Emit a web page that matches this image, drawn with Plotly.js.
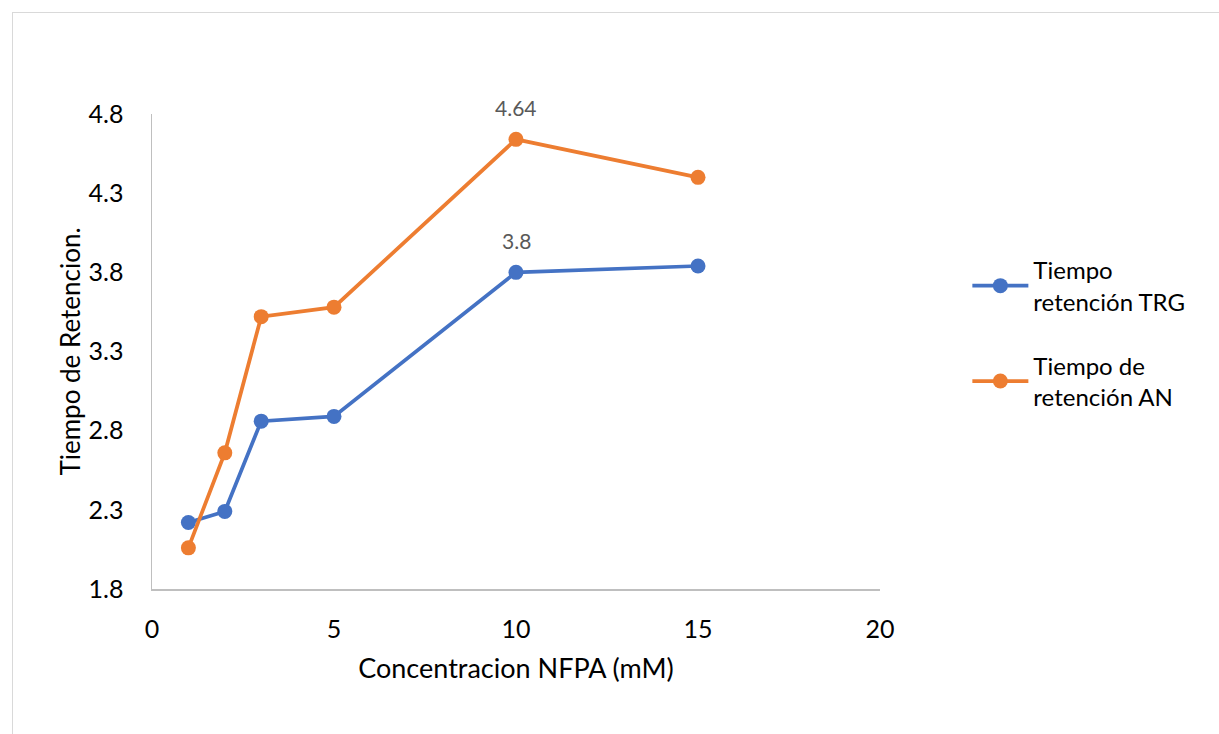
<!DOCTYPE html>
<html>
<head>
<meta charset="utf-8">
<script src="https://cdn.plot.ly/plotly-3.0.1.min.js"></script>
<style>
  html, body { margin: 0; padding: 0; background: #ffffff; overflow: hidden; }
  #frame { position: absolute; left: 12px; top: 12px; width: 1400px; height: 900px; border: 1px solid #d9d9d9; box-sizing: border-box; pointer-events: none; z-index: 2; }
  #chart { position: absolute; left: 0; top: 0; width: 1219px; height: 734px; z-index: 1; }
</style>
</head>
<body>
<div id="frame"></div>
<div id="chart"></div>
<script>
// Data
const concentracion = [1, 2, 3, 5, 10, 15];
const tiempoTRG = [2.22, 2.29, 2.86, 2.89, 3.80, 3.84];
const tiempoAN = [2.06, 2.66, 3.52, 3.58, 4.64, 4.40];
const nombreTRG = 'Tiempo<br>retención TRG';
const nombreAN = 'Tiempo de<br>retención AN';
const xTicks = [0, 5, 10, 15, 20];
const yTicks = [1.8, 2.3, 2.8, 3.3, 3.8, 4.3, 4.8];
const etiquetaIndice = 4; // labelled point (x = 10)

const fontFam = 'Lato, "Open Sans", "DejaVu Sans", sans-serif';

const traces = [
  {
    x: concentracion, y: tiempoTRG, name: nombreTRG, legendgroup: 'trg',
    type: 'scatter', mode: 'lines+markers',
    line: { color: '#4472C4', width: 3.75 },
    marker: { color: '#4472C4', size: 15 }
  },
  {
    x: concentracion, y: tiempoAN, name: nombreAN, legendgroup: 'an',
    type: 'scatter', mode: 'lines+markers',
    line: { color: '#ED7D31', width: 3.75 },
    marker: { color: '#ED7D31', size: 15 }
  }
];

const annotations = [
  { x: concentracion[etiquetaIndice], y: tiempoAN[etiquetaIndice], text: String(tiempoAN[etiquetaIndice]) },
  { x: concentracion[etiquetaIndice], y: tiempoTRG[etiquetaIndice], text: String(tiempoTRG[etiquetaIndice]) }
].map(a => Object.assign(a, {
  xref: 'x', yref: 'y', showarrow: false, yshift: 32,
  font: { family: fontFam, size: 21, color: '#595959' }
}));

const layout = {
  width: 1219, height: 734,
  margin: { l: 152, r: 339, t: 114, b: 145 },
  paper_bgcolor: 'rgba(0,0,0,0)', plot_bgcolor: 'rgba(0,0,0,0)',
  font: { family: fontFam, color: '#000000' },
  showlegend: true,
  legend: {
    x: 1.12, y: 0.718, xanchor: 'left', yanchor: 'top',
    font: { family: fontFam, size: 24, color: '#000000' },
    traceorder: 'grouped', tracegroupgap: 30, itemwidth: 56
  },
  xaxis: {
    range: [0, 20], tickvals: xTicks, ticktext: xTicks.map(String),
    showgrid: false, zeroline: false, showline: true, linecolor: '#bfbfbf', linewidth: 1.5,
    ticks: '', ticklabelstandoff: 17,
    tickfont: { family: fontFam, size: 25, color: '#000000' },
    title: { text: 'Concentracion NFPA (mM)', font: { family: fontFam, size: 27, color: '#000000' }, standoff: 17 }
  },
  yaxis: {
    range: [1.8, 4.8], tickvals: yTicks, ticktext: yTicks.map(v => v.toFixed(1)),
    showgrid: false, zeroline: false, showline: true, linecolor: '#bfbfbf', linewidth: 1.5,
    ticks: '', ticklabelstandoff: 22,
    tickfont: { family: fontFam, size: 25, color: '#000000' },
    title: { text: 'Tiempo de Retencion.', font: { family: fontFam, size: 26, color: '#000000' }, standoff: 0 }
  },
  annotations: annotations
};

Plotly.newPlot('chart', traces, layout, { staticPlot: true, displayModeBar: false });
</script>
</body>
</html>
